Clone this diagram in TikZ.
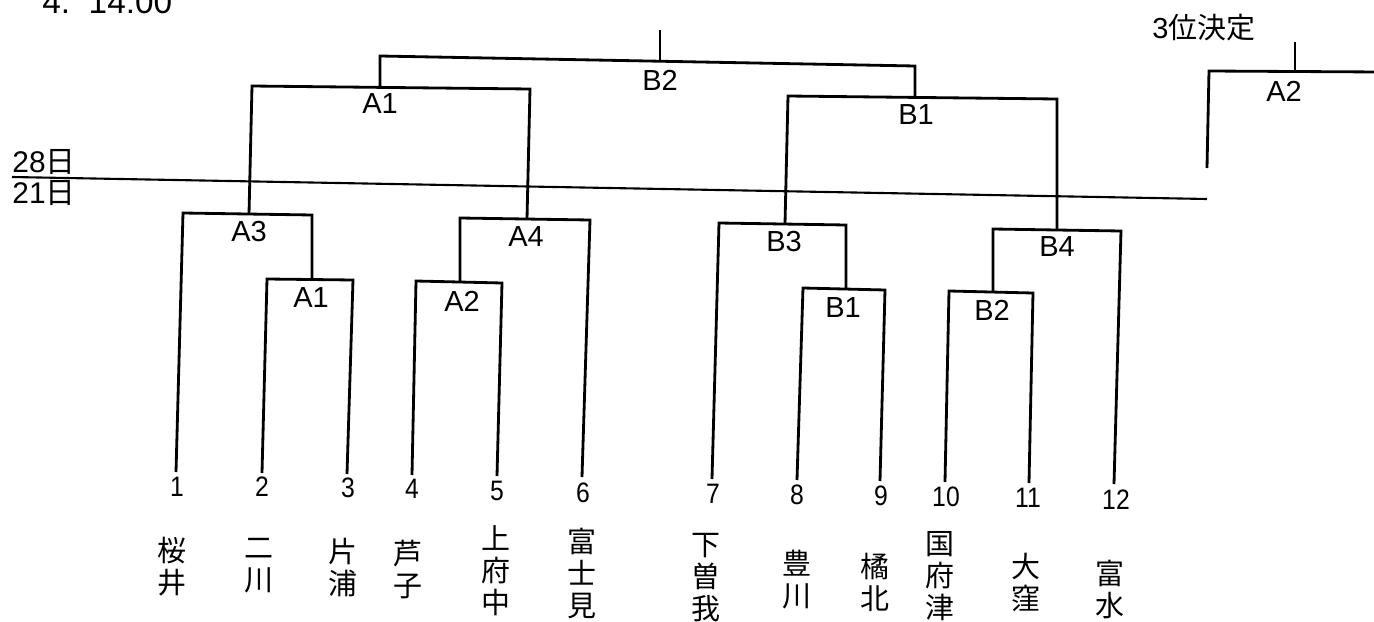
\documentclass[tikz,border=0pt]{standalone}
\usepackage{fontspec}
\setmainfont{Liberation Sans}
\newfontfamily\jp{Noto Sans CJK JP}
\begin{document}
\begin{tikzpicture}[x=0.02cm,y=-0.02cm,
  br/.style={line width=1.6pt,line join=miter},
  lbl/.style={font=\fontsize{16.5}{19}\selectfont,inner sep=0pt},
  num/.style={font=\fontsize{16}{18}\selectfont,inner sep=0pt,xscale=0.88},
  team/.style={font=\jp\fontsize{16.5}{18.2}\selectfont,inner sep=0pt,align=center,anchor=north}]
\useasboundingbox (0,0) rectangle (1374,622);
% leaf bottoms
\coordinate (b1) at (176,472); \coordinate (b2) at (262,473); \coordinate (b3) at (347,474);
\coordinate (b4) at (412,475); \coordinate (b5) at (497,476); \coordinate (b6) at (582,477);
\coordinate (b7) at (712,479); \coordinate (b8) at (797,480); \coordinate (b9) at (880,481);
\coordinate (b10) at (945,482); \coordinate (b11) at (1029,483); \coordinate (b12) at (1114,484);
% quarter brackets
\coordinate (qA3L) at (183,213); \coordinate (qA3R) at (312,215); \coordinate (sA3) at (249,214);
\coordinate (qA1L) at (267,279); \coordinate (qA1R) at (353,280); \coordinate (sA1q) at (312,279);
\coordinate (qA4L) at (460,218); \coordinate (qA4R) at (590,220); \coordinate (sA4) at (527,219);
\coordinate (qA2L) at (416,281); \coordinate (qA2R) at (502,283); \coordinate (sA2q) at (460,282);
\coordinate (qB3L) at (719,223); \coordinate (qB3R) at (846,225); \coordinate (sB3) at (785,224);
\coordinate (qB1L) at (803,288); \coordinate (qB1R) at (885,290); \coordinate (sB1q) at (846,289);
\coordinate (qB4L) at (993,229); \coordinate (qB4R) at (1121,231); \coordinate (sB4) at (1057,230);
\coordinate (qB2L) at (949,291); \coordinate (qB2R) at (1033,293); \coordinate (sB2q) at (993,292);
% semis
\coordinate (sA1L) at (252,86); \coordinate (sA1R) at (530,89); \coordinate (sA1s) at (380,87);
\coordinate (sB1L) at (788,96); \coordinate (sB1R) at (1057,99); \coordinate (sB1s) at (915,98);
% final
\coordinate (fL) at (380,56); \coordinate (fR) at (915,66); \coordinate (fS) at (660,61); \coordinate (fT) at (660,30);
% third place
\coordinate (tT) at (1295,42); \coordinate (tS) at (1295,71); \coordinate (tL) at (1209,71);
\coordinate (tR) at (1380,72); \coordinate (tB) at (1207,168);
% date line
\coordinate (dL) at (12,177); \coordinate (dR) at (1207,199);

\draw[br] (b1) -- (qA3L) -- (qA3R) -- (sA1q);
\draw[br] (b2) -- (qA1L) -- (qA1R) -- (b3);
\draw[br] (sA2q) -- (qA4L) -- (qA4R) -- (b6);
\draw[br] (b4) -- (qA2L) -- (qA2R) -- (b5);
\draw[br] (b7) -- (qB3L) -- (qB3R) -- (sB1q);
\draw[br] (b8) -- (qB1L) -- (qB1R) -- (b9);
\draw[br] (sB2q) -- (qB4L) -- (qB4R) -- (b12);
\draw[br] (b10) -- (qB2L) -- (qB2R) -- (b11);
\draw[br] (sA3) -- (sA1L) -- (sA1R) -- (sA4);
\draw[br] (sB3) -- (sB1L) -- (sB1R) -- (sB4);
\draw[br] (sA1s) -- (fL) -- (fR) -- (sB1s);
\draw[br] (fS) -- (fT);
\draw[br] (tT) -- (tS);
\draw[br] (tB) -- (tL) -- (tR);
\draw[line width=1.2pt] (dL) -- (dR);

% match labels
\node[lbl] (lF) at (660,80) {B2};
\node[lbl] (lSA) at (380,104) {A1};
\node[lbl] (lSB) at (916,115) {B1};
\node[lbl] (lA3) at (249,232) {A3};
\node[lbl] (lA1) at (311,298) {A1};
\node[lbl] (lA4) at (526,237) {A4};
\node[lbl] (lA2) at (462,301) {A2};
\node[lbl] (lB3) at (784,242) {B3};
\node[lbl] (lB1) at (843,308) {B1};
\node[lbl] (lB4) at (1057,247) {B4};
\node[lbl] (lB2) at (992,310) {B2};
\node[lbl] (lT) at (1284,91) {A2};
\node[lbl] (title) at (1204,28) {3\jp 位決定};
\node[lbl,anchor=base west,font=\fontsize{19}{21}\selectfont] (time) at (42,13) {4.\ \ 14:00};
\node[lbl,font=\fontsize{17}{19}\selectfont] (d28) at (44,162) {28\jp 日};
\node[lbl,font=\fontsize{17}{19}\selectfont] (d21) at (44,193) {21\jp 日};

% numbers
\node[num] (n1) at (177,487) {1};
\node[num] (n2) at (262,487) {2};
\node[num] (n3) at (348,488) {3};
\node[num] (n4) at (412,489) {4};
\node[num] (n5) at (497,491) {5};
\node[num] (n6) at (583,493) {6};
\node[num] (n7) at (713,494) {7};
\node[num] (n8) at (797,495) {8};
\node[num] (n9) at (881,496) {9};
\node[num] (n10) at (946,497) {10};
\node[num] (n11) at (1028,498) {11};
\node[num] (n12) at (1116,500) {12};

% team names
\node[team] (t1) at (172,537) {桜\\井};
\node[team] (t2) at (259,538) {二\\川};
\node[team] (t3) at (343,538) {片\\浦};
\node[team] (t4) at (408,540) {芦\\子};
\node[team] (t5) at (496,525) {上\\府\\中};
\node[team] (t6) at (582,528) {富\\士\\見};
\node[team] (t7) at (706,533) {下\\曽\\我};
\node[team] (t8) at (797,550) {豊\\川};
\node[team] (t9) at (875,553) {橘\\北};
\node[team] (t10) at (940,531) {国\\府\\津};
\node[team] (t11) at (1026,553) {大\\窪};
\node[team] (t12) at (1110,560) {富\\水};
\end{tikzpicture}
\end{document}
